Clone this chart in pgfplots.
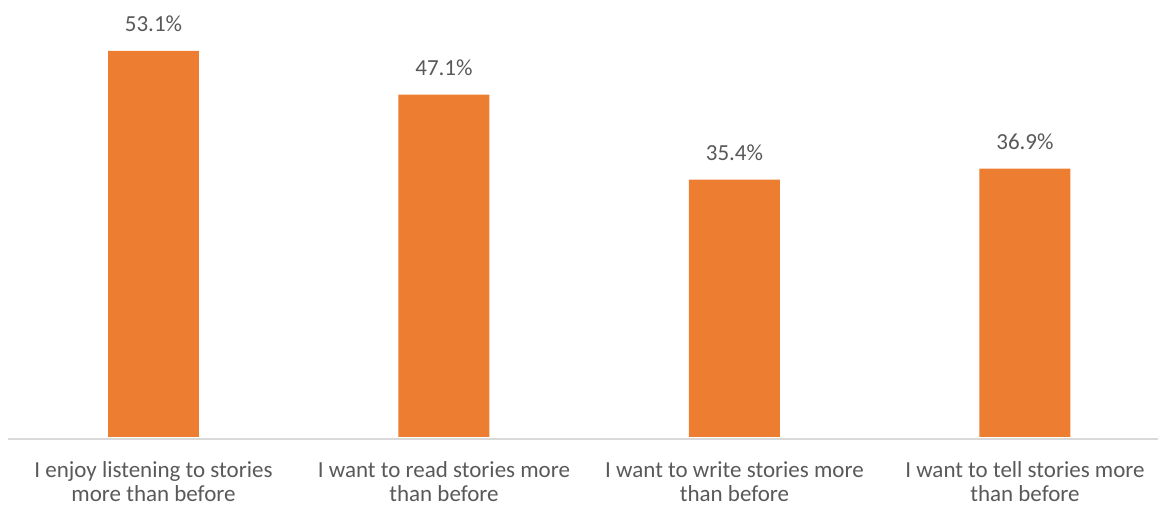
\documentclass[border=0pt]{standalone}
\usepackage{fontspec}
\setmainfont{Carlito}
\usepackage{pgfplots}
\pgfplotsset{compat=1.18}
\usetikzlibrary{calc}
\definecolor{barorange}{HTML}{ED7D31}
\definecolor{txtgray}{HTML}{595959}
\definecolor{axgray}{HTML}{D9D9D9}

\begin{document}
\begin{tikzpicture}
\begin{axis}[
    scale only axis,
    width=1150bp, height=437bp,
    xmin=-0.5, xmax=3.458,
    ymin=0, ymax=60.1,
    ybar, bar width=91bp,
    axis x line=bottom, axis y line=none,
    x axis line style={draw=none},
    xtick={0,1,2,3},
    major tick length=0pt,
    xticklabels={{I enjoy listening to stories\\more than before},
                 {I want to read stories more\\than before},
                 {I want to write stories more\\than before},
                 {I want to tell stories more\\than before}},
    xticklabel style={align=center, text=txtgray, anchor=north, yshift=-21bp,
        font=\fontsize{23bp}{24bp}\selectfont},
    ytick=\empty,
    /pgf/number format/assume math mode=true,
    nodes near coords={\pgfmathprintnumber[fixed,precision=1,fixed zerofill]{\pgfplotspointmeta}\%},
    nodes near coords style={anchor=base, yshift=19bp, text=txtgray,
        font=\fontsize{23bp}{24bp}\selectfont},
    clip=false,
]
\addplot[fill=barorange, draw=none] coordinates {(0,53.1) (1,47.1) (2,35.4) (3,36.9)};
\draw[axgray, line width=1.5bp] (axis cs:-0.5,-0.27) -- (axis cs:3.458,-0.27);
\coordinate (bl) at (rel axis cs:0,0);
\coordinate (tr) at (rel axis cs:1,1);
\end{axis}
\pgfresetboundingbox
\path ($(bl)+(-8.25bp,-71bp)$) rectangle (tr);
\end{tikzpicture}
\end{document}
